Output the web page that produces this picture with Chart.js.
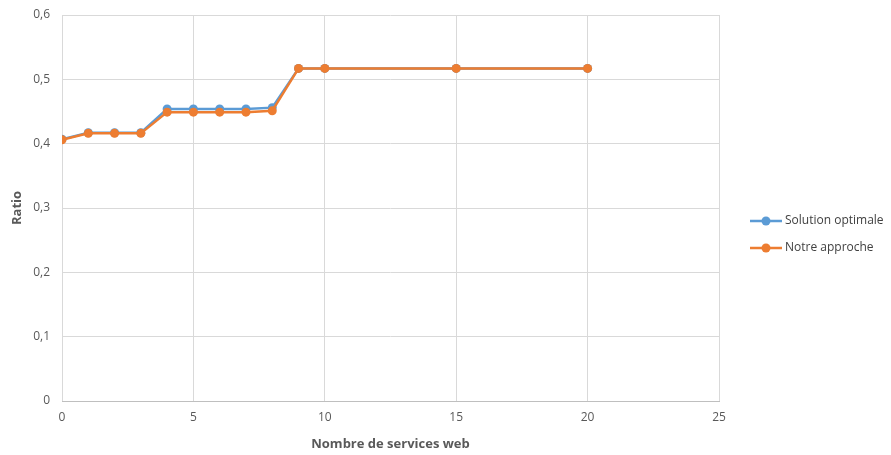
<!DOCTYPE html>
<html>
<head>
<meta charset="utf-8">
<script src="https://cdn.jsdelivr.net/npm/chart.js@4"></script>
<style>
  html, body { margin: 0; padding: 0; background: #fff; }
  #wrap { width: 891px; height: 455px; }
</style>
</head>
<body>
<div id="wrap"><canvas id="c" width="891" height="455"></canvas></div>
<script>
// x values (number of web services) and the two ratio series
const services = [0, 1, 2, 3, 4, 5, 6, 7, 8, 9, 10, 15, 20];
const optimal  = [0.407, 0.417, 0.417, 0.417, 0.454, 0.454, 0.454, 0.454, 0.456, 0.517, 0.517, 0.517, 0.517];
const approach = [0.406, 0.416, 0.416, 0.416, 0.449, 0.449, 0.449, 0.449, 0.451, 0.517, 0.517, 0.517, 0.517];
const seriesNames = ['Solution optimale', 'Notre approche'];
const xTicks = [0, 5, 10, 15, 20, 25];
const yTicks = [0, 0.1, 0.2, 0.3, 0.4, 0.5, 0.6];

const blue = '#5b9bd5';
const orange = '#ed7d31';
const font = "'Open Sans', 'Liberation Sans', sans-serif";

function pts(ys) {
    return services.map((x, i) => ({ x: x, y: ys[i] }));
}

function series(label, ys, color, order) {
    return {
        label: label,
        data: pts(ys),
        order: order,
        borderColor: color,
        backgroundColor: color,
        borderWidth: 2.5,
        pointRadius: 4.5,
        pointHoverRadius: 4.5,
        pointBorderWidth: 0,
        tension: 0
    };
}

// Excel-like legend: short line with a dot, drawn at the right
const sideLegend = {
    id: 'sideLegend',
    afterDraw(chart) {
        const ctx = chart.ctx;
        const x0 = 750;
        let y = 221;
        ctx.save();
        ctx.font = '12px ' + font;
        ctx.textBaseline = 'middle';
        chart.data.datasets.forEach(ds => {
            ctx.strokeStyle = ds.borderColor;
            ctx.lineWidth = 2.5;
            ctx.beginPath();
            ctx.moveTo(x0, y);
            ctx.lineTo(x0 + 32, y);
            ctx.stroke();
            ctx.fillStyle = ds.borderColor;
            ctx.beginPath();
            ctx.arc(x0 + 16, y, 4.5, 0, Math.PI * 2);
            ctx.fill();
            ctx.fillStyle = '#404040';
            ctx.fillText(ds.label, x0 + 35, y);
            y += 27;
        });
        ctx.restore();
    }
};

new Chart(document.getElementById('c').getContext('2d'), {
    type: 'line',
    data: {
        datasets: [
            series(seriesNames[0], optimal, blue, 1),
            series(seriesNames[1], approach, orange, 0)
        ]
    },
    options: {
        responsive: false,
        animation: false,
        layout: { padding: { left: 0, right: 172, top: 15, bottom: 0 } },
        plugins: {
            legend: { display: false },
            tooltip: { enabled: false }
        },
        scales: {
            x: {
                type: 'linear',
                min: 0,
                max: 25,
                afterBuildTicks: s => { s.ticks = xTicks.map(v => ({ value: v })); },
                afterFit: s => { s.height = 54; },
                grid: { color: '#d9d9d9', drawTicks: false },
                border: { color: '#bfbfbf' },
                ticks: {
                    color: '#595959',
                    font: { family: font, size: 12 },
                    padding: 9
                },
                title: {
                    display: true,
                    text: 'Nombre de services web',
                    color: '#595959',
                    font: { family: font, size: 13, weight: 'bold' },
                    padding: { top: 4, bottom: 3 }
                }
            },
            y: {
                min: 0,
                max: 0.6,
                afterBuildTicks: s => { s.ticks = yTicks.map(v => ({ value: v })); },
                afterFit: s => { s.width = 62; s.paddingTop = 0; s.paddingBottom = 0; },
                grid: { color: '#d9d9d9', drawTicks: false },
                border: { display: false },
                ticks: {
                    color: '#595959',
                    font: { family: font, size: 12 },
                    padding: 12,
                    callback: v => String(Math.round(v * 10) / 10).replace('.', ',')
                },
                title: {
                    display: true,
                    text: 'Ratio',
                    color: '#595959',
                    font: { family: font, size: 13, weight: 'bold' },
                    padding: { top: 9, bottom: 4 }
                }
            }
        }
    },
    plugins: [sideLegend]
});
</script>
</body>
</html>
